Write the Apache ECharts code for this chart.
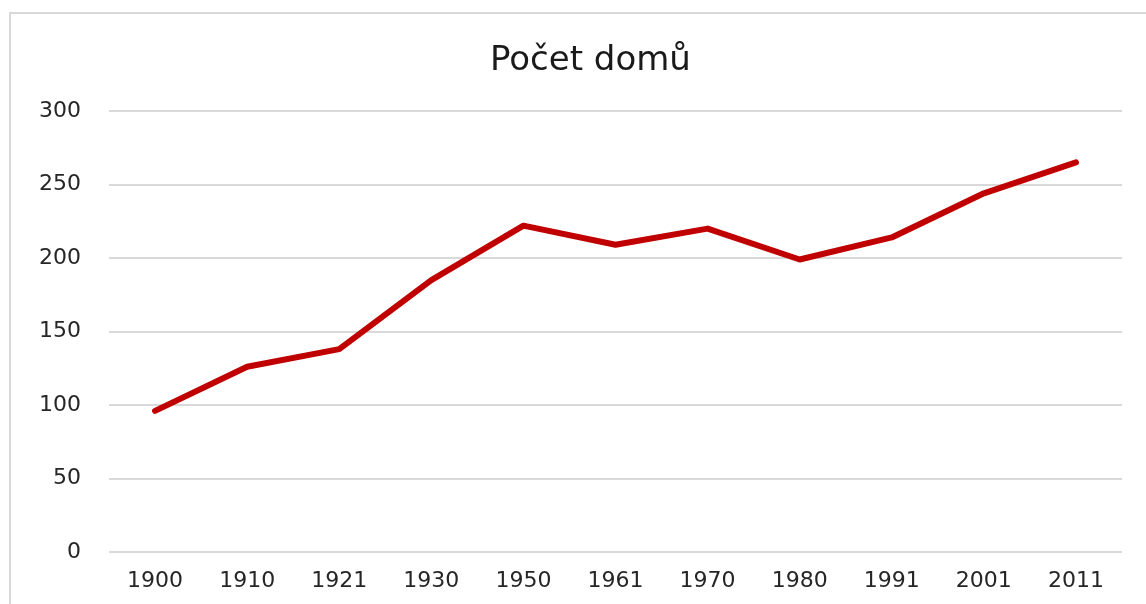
<!DOCTYPE html>
<html>
<head>
<meta charset="utf-8">
<script src="https://cdn.jsdelivr.net/npm/echarts@6/dist/echarts.min.js"></script>
<style>
  html, body { margin: 0; padding: 0; background: #fff; }
  #chart { width: 1146px; height: 604px; }
</style>
</head>
<body>
<div id="chart"></div>
<script>
// data
var years = ['1900', '1910', '1921', '1930', '1950', '1961', '1970', '1980', '1991', '2001', '2011'];
var houses = [96, 126, 138, 185, 222, 209, 220, 199, 214, 244, 265];
var yTicks = { min: 0, max: 300, interval: 50 };

var fontFam = '"DejaVu Sans", Verdana, sans-serif';

var chart = echarts.init(document.getElementById('chart'));
chart.setOption({
  animation: false,
  backgroundColor: '#fff',
  // title is centred on the (wider) chart frame, not the window
  title: {
    text: 'Počet domů',
    left: 485,
    top: 39,
    textStyle: { fontFamily: fontFam, fontSize: 34, fontWeight: 'normal', color: '#1a1a1a' }
  },
  // frame of the chart area (only top/left visible in the picture)
  graphic: [{
    type: 'rect',
    silent: true,
    shape: { x: 10, y: 13, width: 1300, height: 800 },
    style: { fill: 'none', stroke: '#d9d9d9', lineWidth: 2 }
  }],
  grid: { left: 109, right: 24, top: 111, bottom: 52 },
  xAxis: {
    type: 'category',
    data: years,
    boundaryGap: true,
    axisLine: { show: false },
    axisTick: { show: false },
    axisLabel: { margin: 18, fontFamily: fontFam, fontSize: 22, color: '#262626' }
  },
  yAxis: {
    type: 'value',
    min: yTicks.min,
    max: yTicks.max,
    interval: yTicks.interval,
    axisLine: { show: false },
    axisTick: { show: false },
    axisLabel: { margin: 28, fontFamily: fontFam, fontSize: 22, color: '#262626' },
    splitLine: { lineStyle: { color: '#d9d9d9', width: 2 } }
  },
  series: [{
    type: 'line',
    data: houses,
    symbol: 'none',
    lineStyle: { color: '#c00000', width: 6, cap: 'round', join: 'round' }
  }]
});
</script>
</body>
</html>
